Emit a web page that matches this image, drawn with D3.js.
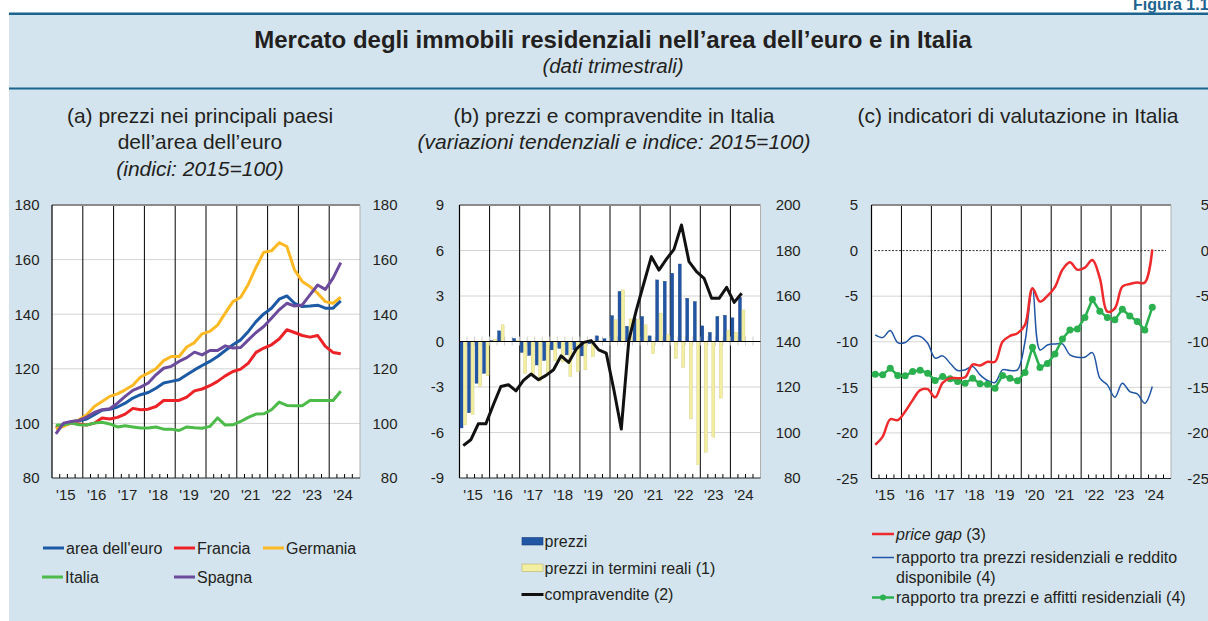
<!DOCTYPE html>
<html>
<head>
<meta charset="utf-8">
<script src="https://cdn.jsdelivr.net/npm/d3@7"></script>
<style>
  body { margin: 0; background: #fff; }
  svg { display: block; font-family: "Liberation Sans", Arial, sans-serif; }
</style>
</head>
<body>
<svg id="chart" width="1208" height="621"></svg>
<script>
// quarterly data, 2015Q1 - 2024Q2 (38 quarters)
var years = [2015, 2016, 2017, 2018, 2019, 2020, 2021, 2022, 2023, 2024];
var yearLabels = ["'15", "'16", "'17", "'18", "'19", "'20", "'21", "'22", "'23", "'24"];

// (a) indices 2015=100
var euroArea = [98.3, 99.4, 100.6, 101, 101.6, 103.2, 104.8, 105.2, 106, 107.4, 109.3, 110.5, 111.3, 112.9, 114.8, 115.4, 116, 117.8, 119.6, 121.2, 122.7, 124.5, 126.7, 128.8, 130.6, 133.7, 137.3, 140.1, 142.2, 145.5, 146.7, 144, 142.8, 143, 143.3, 142.2, 142.2, 144.9];
var france = [98.7, 99.2, 100.1, 99.8, 99.4, 100.1, 102, 101.6, 102.2, 103.4, 105.5, 105, 105.2, 106.2, 108.4, 108.4, 108.4, 109.6, 111.9, 112.6, 113.8, 115.4, 117.4, 119, 119.9, 122.1, 126, 127.6, 128.8, 130.9, 134.3, 133.3, 132.2, 131.6, 132.2, 128.2, 126, 125.5];
var germany = [98, 98.9, 100.4, 101.3, 103.2, 106.2, 108, 109.9, 110.8, 112.3, 114, 117, 118.4, 120, 123, 124.5, 124.5, 128, 129.6, 132.8, 133.7, 136, 140.4, 144.6, 146.2, 151, 157.2, 162.7, 163.2, 166.2, 164.8, 156.2, 152, 150.1, 147.7, 144.6, 144, 146.2];
var italy = [99.3, 99.5, 100.1, 99.5, 99.4, 100.1, 100.4, 99.8, 98.7, 99.1, 98.7, 98.3, 98.3, 98.7, 97.9, 97.9, 97.4, 98.7, 98.4, 98.2, 98.9, 102, 99.4, 99.5, 100.7, 102.2, 103.4, 103.5, 105, 107.8, 106.6, 106.5, 106.5, 108.4, 108.4, 108.4, 108.4, 111.8];
var spain = [96.2, 100.1, 100.7, 101.1, 102.3, 104, 105, 105.4, 107.4, 109.9, 112.1, 113.3, 114.8, 117.8, 120.2, 120.9, 122.7, 124.1, 126.1, 125.1, 126.7, 126.7, 128.4, 127.6, 127.8, 130.6, 133.3, 135.5, 138.5, 141.6, 144, 143, 143.4, 147.1, 150.7, 149.1, 153.2, 158.9];

// (b) yearly changes (left) and sales index (right)
var prices = [-5.7, -4.7, -2.75, -2.1, 0.05, 0.7, 0, 0.2, -0.72, -0.92, -1.55, -1.25, -0.55, -0.45, -0.88, -0.55, -0.95, -0.15, 0.37, 0.18, 1.7, 3.3, 1.0, 1.5, 1.65, 0.37, 4.06, 3.97, 4.5, 5.11, 2.85, 2.63, 1.03, 0.6, 1.65, 1.73, 1.56, 2.92];
var realPrices = [-5.5, -4.8, -2.95, -2.25, 0.15, 1.1, 0, 0.05, -2.1, -2.2, -2.6, -2.1, -1.27, -1.35, -2.3, -1.97, -1.87, -1.0, 0.05, 0, 1.43, 3.4, 1.49, 1.45, 1.1, -0.8, 1.87, 0.44, -1.1, -1.7, -5.1, -8.12, -7.3, -6.3, -3.73, 0.72, 0.61, 2.08];
var sales = [94.2, 96.8, 103.8, 103.8, 112.2, 120.2, 121, 118.3, 122.9, 125.7, 123.2, 125.1, 127.6, 133.7, 130.8, 136.6, 139.6, 140.4, 136.3, 134.9, 119, 101.5, 140.5, 153.8, 165.6, 177.3, 171.4, 176.2, 180.5, 191.2, 175.1, 170.7, 167.8, 159, 159, 163.8, 157.2, 161.2];

// (c) valuation indicators
var priceGap = [-21.3, -20.4, -18.5, -18.6, -17.65, -16.4, -15.3, -15.2, -16.1, -14.5, -14.0, -14.0, -13.9, -12.5, -12.6, -12.2, -12.2, -10.0, -9.36, -9.07, -8.15, -4.13, -5.6, -4.97, -4.0, -2.1, -1.28, -2.1, -1.87, -1.03, -3.04, -6.7, -6.33, -3.95, -3.66, -3.51, -3.51, 0.14];
var priceIncome = [-9.25, -9.54, -8.77, -10.09, -10.09, -9.43, -9.43, -10.16, -11.8, -11.55, -12.35, -13.16, -13.09, -12.72, -13.63, -14.25, -14.47, -13.09, -13.16, -13.09, -10.0, -4.13, -10.9, -10.35, -10.24, -10.24, -11.44, -11.7, -11.7, -11.19, -14.0, -14.73, -16.08, -14.55, -15.46, -15.72, -16.74, -14.9];
var priceRent = [-13.56, -13.63, -12.9, -13.7, -13.74, -13.27, -13.12, -13.45, -14.25, -13.82, -14.07, -14.36, -14.55, -14.0, -14.62, -14.66, -15.1, -13.7, -14.0, -14.29, -13.38, -10.6, -12.83, -12.39, -11.33, -9.69, -8.7, -8.59, -7.35, -5.34, -6.66, -7.35, -7.6, -6.44, -7.17, -7.79, -8.7, -6.22];

var textColor = "#231f20";
var svg = d3.select("#chart");

// background and header
svg.append("rect").attr("x", 9).attr("y", 14).attr("width", 1199).attr("height", 607).attr("fill", "#d3e4ee");
svg.append("rect").attr("x", 9).attr("y", 12.5).attr("width", 1199).attr("height", 2.5).attr("fill", "#1b6490");
svg.append("rect").attr("x", 9).attr("y", 87.5).attr("width", 1199).attr("height", 2).attr("fill", "#1b6490");
svg.append("text").attr("x", 1133).attr("y", 9.5).attr("font-size", 16).attr("font-weight", "bold")
   .attr("fill", "#1b6490").text("Figura 1.10");

svg.append("text").attr("x", 613).attr("y", 48).attr("text-anchor", "middle")
   .attr("font-size", 24).attr("font-weight", "bold").attr("fill", textColor)
   .text("Mercato degli immobili residenziali nell\u2019area dell\u2019euro e in Italia");
svg.append("text").attr("x", 613).attr("y", 73).attr("text-anchor", "middle")
   .attr("font-size", 20.5).attr("font-style", "italic").attr("fill", textColor)
   .text("(dati trimestrali)");

function heading(cx, lines){
    lines.forEach(function(l, i){
        svg.append("text").attr("x", cx).attr("y", 123 + i*26.3).attr("text-anchor", "middle")
           .attr("font-size", 21).attr("font-style", l.italic ? "italic" : "normal")
           .attr("fill", textColor).text(l.t);
    });
}
heading(200, [{t: "(a) prezzi nei principali paesi"}, {t: "dell\u2019area dell\u2019euro"}, {t: "(indici: 2015=100)", italic: true}]);
heading(614, [{t: "(b) prezzi e compravendite in Italia"}, {t: "(variazioni tendenziali e indice: 2015=100)", italic: true}]);
heading(1018, [{t: "(c) indicatori di valutazione in Italia"}]);

// common frame: white plot, grid, year separators, quarter ticks, axes
function makePanel(p){
    var x = d3.scaleLinear().domain([2015, 2025]).range([p.left, p.right]);
    var y = d3.scaleLinear().domain(p.yDomain).range([p.bottom, p.top]);
    var y2 = d3.scaleLinear().domain(p.y2Domain).range([p.bottom, p.top]);
    var g = svg.append("g");

    g.append("rect").attr("x", p.left).attr("y", p.top)
     .attr("width", p.right - p.left).attr("height", p.bottom - p.top).attr("fill", "#fff");

    g.selectAll(".grid").data(p.grid).enter().append("line")
     .attr("x1", p.left).attr("x2", p.right)
     .attr("y1", function(d){ return y(d); }).attr("y2", function(d){ return y(d); })
     .attr("stroke", "#d4d4d4").attr("stroke-width", 1);

    g.selectAll(".yr").data(years.slice(1)).enter().append("line")
     .attr("x1", function(d){ return x(d); }).attr("x2", function(d){ return x(d); })
     .attr("y1", p.top).attr("y2", p.bottom)
     .attr("stroke", "#000").attr("stroke-width", 1);

    var quarters = d3.range(1, 40).filter(function(q){ return q % 4 != 0; });
    g.selectAll(".qt").data(quarters).enter().append("line")
     .attr("x1", function(q){ return x(2015 + q/4); }).attr("x2", function(q){ return x(2015 + q/4); })
     .attr("y1", p.bottom).attr("y2", p.bottom - 4)
     .attr("stroke", "#000").attr("stroke-width", 1);

    // frame
    g.append("line").attr("x1", p.left).attr("x2", p.right).attr("y1", p.top).attr("y2", p.top)
     .attr("stroke", "#8a8a8a").attr("stroke-width", 2);
    g.append("line").attr("x1", p.right).attr("x2", p.right).attr("y1", p.top).attr("y2", p.bottom)
     .attr("stroke", "#b0b0b0").attr("stroke-width", 1);
    g.append("line").attr("x1", p.left).attr("x2", p.left).attr("y1", p.top).attr("y2", p.bottom)
     .attr("stroke", "#000").attr("stroke-width", 1.2);
    g.append("line").attr("x1", p.left).attr("x2", p.right).attr("y1", p.bottom).attr("y2", p.bottom)
     .attr("stroke", "#222").attr("stroke-width", 1.2);

    // axis labels (plain hyphen for negatives, as in the original)
    var la = svg.append("g").attr("transform", "translate(" + p.leftLabel + ",0)")
        .call(d3.axisLeft(y).tickValues(p.ticks).tickFormat(String).tickSize(0).tickPadding(0));
    var ra = svg.append("g").attr("transform", "translate(" + p.rightLabel + ",0)")
        .call(d3.axisLeft(y2).tickValues(p.ticks2).tickFormat(String).tickSize(0).tickPadding(0));
    var xa = svg.append("g").attr("transform", "translate(-2," + (p.bottom + 11) + ")")
        .call(d3.axisBottom(x).tickValues(years.map(function(d){ return d + 0.5; }))
              .tickFormat(function(d, i){ return yearLabels[i]; }).tickSize(0).tickPadding(0));
    [la, ra, xa].forEach(function(a){
        a.select(".domain").remove();
        a.selectAll("text").attr("font-size", 15).attr("fill", textColor)
         .attr("font-family", "Liberation Sans, Arial, sans-serif");
    });
    return {g: g, x: x, y: y, y2: y2};
}

function qx(i){ return 2015 + (i + 0.5)/4; }

// ---- panel (a)
var pa = makePanel({left: 52, right: 360, top: 205, bottom: 478, yDomain: [80, 180], y2Domain: [80, 180],
    grid: [100, 120, 140, 160], ticks: [80, 100, 120, 140, 160, 180], ticks2: [80, 100, 120, 140, 160, 180],
    leftLabel: 39.5, rightLabel: 397.5});

var seriesA = [
    {name: "area dell'euro", values: euroArea, color: "#1d5aa5"},
    {name: "Francia", values: france, color: "#ec2227"},
    {name: "Germania", values: germany, color: "#fdb924"},
    {name: "Italia", values: italy, color: "#4dbb4a"},
    {name: "Spagna", values: spain, color: "#6c4b9d"}
];
var lineA = d3.line().x(function(d, i){ return pa.x(qx(i)); }).y(function(d){ return pa.y(d); });
seriesA.forEach(function(s){
    pa.g.append("path").attr("d", lineA(s.values)).attr("fill", "none")
        .attr("stroke", s.color).attr("stroke-width", 3).attr("stroke-linejoin", "round");
});

// legend (a)
var legA = [{s: 0, x: 43, y: 548}, {s: 1, x: 174, y: 548}, {s: 2, x: 263, y: 548}, {s: 3, x: 42, y: 577}, {s: 4, x: 174, y: 577}];
legA.forEach(function(l){
    var s = seriesA[l.s];
    svg.append("line").attr("x1", l.x).attr("x2", l.x + 21).attr("y1", l.y).attr("y2", l.y)
       .attr("stroke", s.color).attr("stroke-width", 3);
    svg.append("text").attr("x", l.x + 23).attr("y", l.y + 5.5).attr("font-size", 16).attr("fill", textColor).text(s.name);
});

// ---- panel (b)
var pb = makePanel({left: 459.5, right: 760.5, top: 205, bottom: 478, yDomain: [-9, 9], y2Domain: [80, 200],
    grid: [-6, -3, 3, 6], ticks: [-9, -6, -3, 0, 3, 6, 9], ticks2: [80, 100, 120, 140, 160, 180, 200],
    leftLabel: 444, rightLabel: 800.7});

var qBand = d3.scaleBand().domain(d3.range(40)).range([pb.x(2015), pb.x(2025)]);
var sub = d3.scaleBand().domain(["p", "r"]).range([0, qBand.bandwidth()]).paddingInner(0.15).paddingOuter(0.15);

// small grey ticks on the zero line
pb.g.selectAll(".zt").data(d3.range(1, 40)).enter().append("line")
   .attr("x1", function(q){ return qBand(q); }).attr("x2", function(q){ return qBand(q); })
   .attr("y1", pb.y(0) - 5).attr("y2", pb.y(0) + 4)
   .attr("stroke", "#cfcfcf").attr("stroke-width", 1);

function bars(data, key, fill, stroke){
    pb.g.selectAll(".b" + key).data(data).enter().append("rect")
       .attr("x", function(d, i){ return qBand(i) + sub(key); })
       .attr("width", sub.bandwidth())
       .attr("y", function(d){ return pb.y(Math.max(0, d)); })
       .attr("height", function(d){ return Math.abs(pb.y(d) - pb.y(0)); })
       .attr("fill", fill).attr("stroke", stroke).attr("stroke-width", 0.4);
}
bars(prices, "p", "#2156a5", "#163f7e");
bars(realPrices, "r", "#f3efa0", "#cfc77a");

pb.g.append("line").attr("x1", pb.x(2015)).attr("x2", pb.x(2025)).attr("y1", pb.y(0)).attr("y2", pb.y(0))
    .attr("stroke", "#000").attr("stroke-width", 1.2);

var lineB = d3.line().x(function(d, i){ return pb.x(qx(i)); }).y(function(d){ return pb.y2(d); });
pb.g.append("path").attr("d", lineB(sales)).attr("fill", "none")
    .attr("stroke", "#111").attr("stroke-width", 3).attr("stroke-linejoin", "round");

// legend (b)
svg.append("rect").attr("x", 522).attr("y", 537.5).attr("width", 21).attr("height", 7.5)
   .attr("fill", "#2156a5").attr("stroke", "#163f7e").attr("stroke-width", 0.6);
svg.append("text").attr("x", 544.5).attr("y", 546.5).attr("font-size", 16).attr("fill", textColor).text("prezzi");
svg.append("rect").attr("x", 522).attr("y", 564).attr("width", 21).attr("height", 7.5)
   .attr("fill", "#f3efa0").attr("stroke", "#b9b06a").attr("stroke-width", 0.6);
svg.append("text").attr("x", 544.5).attr("y", 573.5).attr("font-size", 16).attr("fill", textColor).text("prezzi in termini reali (1)");
svg.append("line").attr("x1", 521.5).attr("x2", 543.5).attr("y1", 594.5).attr("y2", 594.5)
   .attr("stroke", "#111").attr("stroke-width", 3);
svg.append("text").attr("x", 544.5).attr("y", 600).attr("font-size", 16).attr("fill", textColor).text("compravendite (2)");

// ---- panel (c)
var pc = makePanel({left: 871.5, right: 1171, top: 205, bottom: 478.5, yDomain: [-25, 5], y2Domain: [-25, 5],
    grid: [-20, -15, -10, -5], ticks: [-25, -20, -15, -10, -5, 0, 5], ticks2: [-25, -20, -15, -10, -5, 0, 5],
    leftLabel: 858, rightLabel: 1209});

pc.g.append("line").attr("x1", pc.x(2015) + 3).attr("x2", pc.x(2025) - 5).attr("y1", pc.y(0)).attr("y2", pc.y(0))
    .attr("stroke", "#333").attr("stroke-width", 1).attr("stroke-dasharray", "2,1.5");

var smooth = d3.line().curve(d3.curveCatmullRom.alpha(0.5))
    .x(function(d, i){ return pc.x(qx(i)); }).y(function(d){ return pc.y(d); });
var straight = d3.line().x(function(d, i){ return pc.x(qx(i)); }).y(function(d){ return pc.y(d); });

pc.g.append("path").attr("d", smooth(priceIncome)).attr("fill", "none")
    .attr("stroke", "#2156a6").attr("stroke-width", 1.5);
pc.g.append("path").attr("d", straight(priceRent)).attr("fill", "none")
    .attr("stroke", "#2bb050").attr("stroke-width", 2.5).attr("stroke-linejoin", "round");
pc.g.selectAll(".dot").data(priceRent).enter().append("circle")
    .attr("cx", function(d, i){ return pc.x(qx(i)); }).attr("cy", function(d){ return pc.y(d); })
    .attr("r", 3.5).attr("fill", "#2bb050");
pc.g.append("path").attr("d", smooth(priceGap)).attr("fill", "none")
    .attr("stroke", "#ee2a2d").attr("stroke-width", 2.5);

// legend (c)
svg.append("line").attr("x1", 872).attr("x2", 894).attr("y1", 534).attr("y2", 534).attr("stroke", "#ee2a2d").attr("stroke-width", 2.5);
var t1 = svg.append("text").attr("x", 896).attr("y", 539.5).attr("font-size", 16).attr("fill", textColor);
t1.append("tspan").attr("font-style", "italic").text("price gap");
t1.append("tspan").text(" (3)");
svg.append("line").attr("x1", 872).attr("x2", 894).attr("y1", 557.5).attr("y2", 557.5).attr("stroke", "#2156a6").attr("stroke-width", 1.5);
svg.append("text").attr("x", 896).attr("y", 563).attr("font-size", 16).attr("fill", textColor).text("rapporto tra prezzi residenziali e reddito");
svg.append("text").attr("x", 896).attr("y", 583).attr("font-size", 16).attr("fill", textColor).text("disponibile (4)");
svg.append("line").attr("x1", 872).attr("x2", 894).attr("y1", 597.5).attr("y2", 597.5).attr("stroke", "#2bb050").attr("stroke-width", 2.5);
svg.append("circle").attr("cx", 883).attr("cy", 597.5).attr("r", 3).attr("fill", "#2bb050");
svg.append("text").attr("x", 896).attr("y", 603).attr("font-size", 16).attr("fill", textColor).text("rapporto tra prezzi e affitti residenziali (4)");
</script>
</body>
</html>
